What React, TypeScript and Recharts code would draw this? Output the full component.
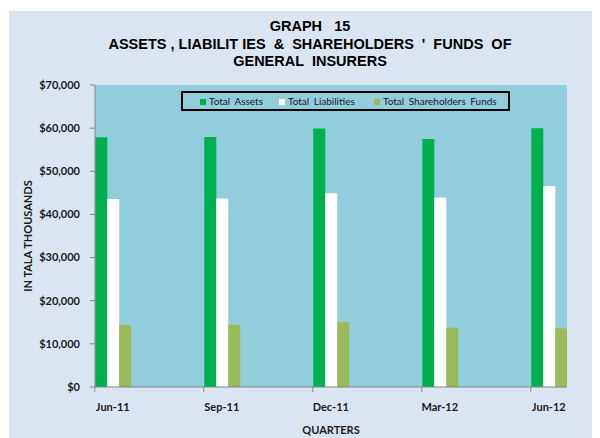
import { BarChart, Bar, XAxis, YAxis, CartesianGrid, Legend } from 'recharts';

// Graph 15 — assets, liabilities & shareholders' funds of general insurers (tala thousands)
const QUARTERS = ['Jun-11', 'Sep-11', 'Dec-11', 'Mar-12', 'Jun-12'];
const TOTAL_ASSETS = [57900, 57950, 59900, 57500, 60000];
const TOTAL_LIABILITIES = [43600, 43700, 44900, 43900, 46600];
const SHAREHOLDERS_FUNDS = [14400, 14400, 15050, 13750, 13600];
const Y_TICKS = [0, 10000, 20000, 30000, 40000, 50000, 60000, 70000];

const SERIES = [
  { key: 'assets', name: 'Total Assets', color: '#00B050' },
  { key: 'liabilities', name: 'Total Liabilities', color: '#FFFFFF' },
  { key: 'funds', name: 'Total Shareholders Funds', color: '#9BBB59' },
];

const data = QUARTERS.map((q, i) => ({
  idx: i,
  quarter: q,
  assets: TOTAL_ASSETS[i],
  liabilities: TOTAL_LIABILITIES[i],
  funds: SHAREHOLDERS_FUNDS[i],
}));

const AXIS_FONT = 'Lato, "Open Sans", sans-serif';
const AXIS_GREY = '#868686';

const fmtDollar = (v: number) => '$' + v.toLocaleString('en-US');

// excel puts the tick mark at the left edge of each bar group, label centred on the group
function QuarterTick(props: any) {
  const { x, y, payload } = props;
  return (
    <g>
      <line x1={x - 18} y1={y} x2={x - 18} y2={y + 5} stroke={AXIS_GREY} />
      <text x={x} y={y + 24} textAnchor="middle" fontFamily={AXIS_FONT} fontWeight={700} fontSize={11} fill="#1a1a1a">
        {QUARTERS[payload.value]}
      </text>
    </g>
  );
}

// legend items sit at fixed spots inside the framed box, in series order
const LEGEND_LEFTS = [17, 96, 191];

function LegendBox(props: any) {
  const items = props.payload || [];
  return (
    <div
      style={{
        position: 'relative',
        width: 329,
        height: 20,
        boxSizing: 'border-box',
        border: '2px solid #000',
        fontFamily: AXIS_FONT,
        fontSize: 10,
        wordSpacing: 2,
        color: '#1a1a1a',
      }}
    >
      {SERIES.map((s, i) => {
        const p = items.find((it: any) => it.dataKey === s.key) || { value: s.name, color: s.color };
        return (
          <div key={s.key} style={{ position: 'absolute', left: LEGEND_LEFTS[i], top: 1, whiteSpace: 'pre', lineHeight: '15px' }}>
            <span style={{ display: 'inline-block', width: 6, height: 6, background: p.color, marginRight: 3 }} />
            {p.value}
          </div>
        );
      })}
    </div>
  );
}

export default function App() {
  return (
    <div
      style={{
        position: 'relative',
        marginLeft: 1,
        marginTop: 3,
        width: 591,
        height: 427,
        background: '#DBE5F1',
      }}
    >
      <div
        style={{
          position: 'absolute',
          left: 0,
          top: 7,
          width: 602,
          textAlign: 'center',
          fontFamily: '"Liberation Sans", Arial, sans-serif',
          fontWeight: 700,
          fontSize: 14.5,
          lineHeight: '17.5px',
          whiteSpace: 'pre',
          color: '#000',
        }}
      >
        <div>GRAPH   15</div>
        <div>ASSETS , LIABILIT IES  &amp;  SHAREHOLDERS  '  FUNDS  OF</div>
        <div>GENERAL  INSURERS</div>
      </div>
      <BarChart
        width={591}
        height={427}
        data={data}
        margin={{ top: 74, right: 33, bottom: 0, left: 0 }}
        barGap={0}
        barSize={12}
        style={{ position: 'absolute', left: 0, top: 0 }}
      >
        <CartesianGrid fill="#92CDDC" stroke="none" horizontal={false} vertical={false} />
        <XAxis
          dataKey="idx"
          type="number"
          domain={[-0.163, 4.167]}
          ticks={[0, 1, 2, 3, 4]}
          allowDataOverflow
          height={51}
          tickSize={0}
          tickMargin={0}
          tickLine={false}
          stroke={AXIS_GREY}
          tick={<QuarterTick />}
          label={{
            value: 'QUARTERS',
            position: 'insideBottom',
            offset: 4,
            fontFamily: AXIS_FONT,
            fontWeight: 700,
            fontSize: 11,
            fill: '#1a1a1a',
          }}
        />
        <YAxis
          width={86}
          domain={[0, 70000]}
          ticks={Y_TICKS}
          tickFormatter={fmtDollar}
          tickSize={5}
          tickMargin={10}
          stroke={AXIS_GREY}
          tick={{ fontFamily: AXIS_FONT, fontWeight: 700, fontSize: 11, fill: '#1a1a1a' }}
          label={{
            content: (p: any) => {
              const vb = p.viewBox;
              const cx = vb.x + 18;
              const cy = vb.y + vb.height / 2;
              return (
                <text
                  x={cx}
                  y={cy}
                  transform={`rotate(-90, ${cx}, ${cy})`}
                  textAnchor="middle"
                  dominantBaseline="central"
                  fontFamily={AXIS_FONT}
                  fontWeight={700}
                  fontSize={11}
                  fill="#1a1a1a"
                >
                  IN TALA THOUSANDS
                </text>
              );
            },
          }}
        />
        <Legend
          layout="vertical"
          align="center"
          verticalAlign="middle"
          content={<LegendBox />}
          wrapperStyle={{ position: 'absolute', left: 172, top: 80, width: 329, height: 20 }}
        />
        {SERIES.map((s) => (
          <Bar key={s.key} dataKey={s.key} name={s.name} fill={s.color} isAnimationActive={false} />
        ))}
      </BarChart>
    </div>
  );
}
